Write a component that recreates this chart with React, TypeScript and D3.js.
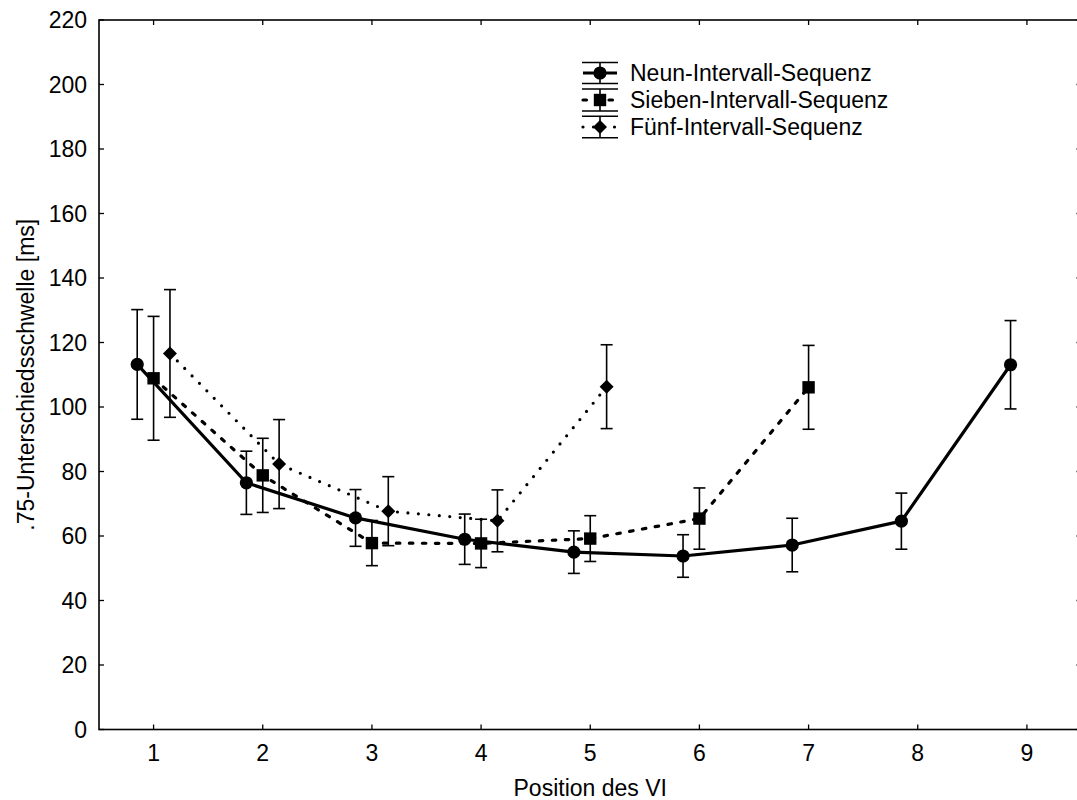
import React from "react";
import * as d3 from "d3";

const positions = [1, 2, 3, 4, 5, 6, 7, 8, 9];
const yTicks = [0, 20, 40, 60, 80, 100, 120, 140, 160, 180, 200, 220];

const neunMean = [113.2, 76.5, 65.6, 59.0, 55.0, 53.8, 57.2, 64.6, 113.1];
const neunErr = [17.0, 9.8, 8.8, 7.8, 6.6, 6.6, 8.3, 8.7, 13.7];
const siebenMean = [108.9, 78.8, 57.8, 57.7, 59.2, 65.4, 106.1];
const siebenErr = [19.2, 11.5, 7.0, 7.5, 7.1, 9.5, 13.0];
const fuenfMean = [116.6, 82.3, 67.7, 64.7, 106.3];
const fuenfErr = [19.8, 13.8, 10.7, 9.6, 13.0];

const seriesNames = ["Neun-Intervall-Sequenz", "Sieben-Intervall-Sequenz", "Fünf-Intervall-Sequenz"];
const xTitle = "Position des VI";
const yTitle = ".75-Unterschiedsschwelle [ms]";

const W = 1077;
const H = 800;
const FONT = "'Liberation Sans', Arial, sans-serif";
const FS = 23;

type Series = {
  name: string;
  mean: number[];
  err: number[];
  offset: number;
  marker: "circle" | "square" | "diamond";
  dash: string | null;
};

const series: Series[] = [
  { name: seriesNames[0], mean: neunMean, err: neunErr, offset: -0.15, marker: "circle", dash: null },
  { name: seriesNames[1], mean: siebenMean, err: siebenErr, offset: 0, marker: "square", dash: "3.5 9.5" },
  { name: seriesNames[2], mean: fuenfMean, err: fuenfErr, offset: 0.15, marker: "diamond", dash: "0 10.5" },
];

function Marker({ kind, x, y }: { kind: string; x: number; y: number }) {
  if (kind === "circle") return <circle cx={x} cy={y} r={6.6} fill="#000" />;
  if (kind === "square") return <rect x={x - 6.2} y={y - 6.2} width={12.4} height={12.4} fill="#000" />;
  const s = 7;
  return <path d={`M${x},${y - s}L${x + s},${y}L${x},${y + s}L${x - s},${y}Z`} fill="#000" />;
}

export default function App() {
  const x = d3.scaleLinear().domain([0.5, 9.5]).range([99, 1081.5]);
  const y = d3.scaleLinear().domain([0, 220]).range([729.5, 20]);

  const left = x.range()[0];
  const right = x.range()[1];
  const top = y.range()[1];
  const bottom = y.range()[0];

  const legendX0 = 582;
  const legendX1 = 618;
  const legendRows = [73, 100, 127];
  const legendHalf = [10.5, 11, 10.7];

  return (
    <svg
      width={W}
      height={H}
      style={{ position: "absolute", left: 0, top: 0, background: "#fff" }}
      fontFamily={FONT}
    >
      <rect x={0} y={0} width={W} height={H} fill="#fff" />
      {/* frame */}
      <rect x={left} y={top} width={right - left} height={bottom - top} fill="none" stroke="#000" strokeWidth={1.6} />
      {/* y ticks */}
      {yTicks.map((t) => (
        <g key={"y" + t}>
          <line x1={left} x2={left + 5} y1={y(t)} y2={y(t)} stroke="#000" strokeWidth={1.3} />
          <line x1={right} x2={right - 5} y1={y(t)} y2={y(t)} stroke="#000" strokeWidth={1.3} />
          <text x={87} y={y(t)} dy="0.36em" textAnchor="end" fontSize={FS} fill="#000">
            {t}
          </text>
        </g>
      ))}
      {/* x ticks */}
      {positions.map((p) => (
        <g key={"x" + p}>
          <line x1={x(p)} x2={x(p)} y1={bottom} y2={bottom - 5} stroke="#000" strokeWidth={1.3} />
          <line x1={x(p)} x2={x(p)} y1={top} y2={top + 5} stroke="#000" strokeWidth={1.3} />
          <text x={x(p)} y={761} textAnchor="middle" fontSize={FS} fill="#000">
            {p}
          </text>
        </g>
      ))}
      <text x={(left + right) / 2} y={796} textAnchor="middle" fontSize={FS} fill="#000">
        {xTitle}
      </text>
      <text
        transform={`translate(34,${(top + bottom) / 2}) rotate(-90)`}
        textAnchor="middle"
        fontSize={FS}
        fill="#000"
      >
        {yTitle}
      </text>

      {/* series */}
      {series.map((s) => {
        const lx = d3
          .line<number>()
          .x((_, i) => x(i + 1 + s.offset))
          .y((d) => y(d));
        return (
          <g key={s.name}>
            <path
              d={lx(s.mean) || ""}
              fill="none"
              stroke="#000"
              strokeWidth={3.2}
              strokeDasharray={s.dash || undefined}
              strokeLinecap={s.dash ? "round" : "butt"}
              strokeLinejoin="round"
            />
            {s.mean.map((m, i) => {
              const cx = x(i + 1 + s.offset);
              const y1 = y(m + s.err[i]);
              const y2 = y(m - s.err[i]);
              return (
                <g key={i}>
                  <line x1={cx} x2={cx} y1={y1} y2={y2} stroke="#000" strokeWidth={1.6} />
                  <line x1={cx - 6} x2={cx + 6} y1={y1} y2={y1} stroke="#000" strokeWidth={1.6} />
                  <line x1={cx - 6} x2={cx + 6} y1={y2} y2={y2} stroke="#000" strokeWidth={1.6} />
                  <Marker kind={s.marker} x={cx} y={y(m)} />
                </g>
              );
            })}
          </g>
        );
      })}

      {/* legend */}
      {series.map((s, i) => {
        const cy = legendRows[i];
        const h = legendHalf[i];
        const cx = (legendX0 + legendX1) / 2;
        return (
          <g key={"leg" + i}>
            <line x1={legendX0} x2={legendX1} y1={cy - h} y2={cy - h} stroke="#000" strokeWidth={1.6} />
            <line x1={legendX0} x2={legendX1} y1={cy + h} y2={cy + h} stroke="#000" strokeWidth={1.6} />
            <line x1={cx} x2={cx} y1={cy - h} y2={cy + h} stroke="#000" strokeWidth={1.6} />
            <line
              x1={legendX0 + 1}
              x2={legendX1 - 1}
              y1={cy}
              y2={cy}
              stroke="#000"
              strokeWidth={3.2}
              strokeDasharray={s.dash || undefined}
              strokeLinecap={s.dash ? "round" : "butt"}
            />
            <Marker kind={s.marker} x={cx} y={cy} />
            <text x={630} y={cy + 8} fontSize={FS} fill="#000">
              {s.name}
            </text>
          </g>
        );
      })}
    </svg>
  );
}
